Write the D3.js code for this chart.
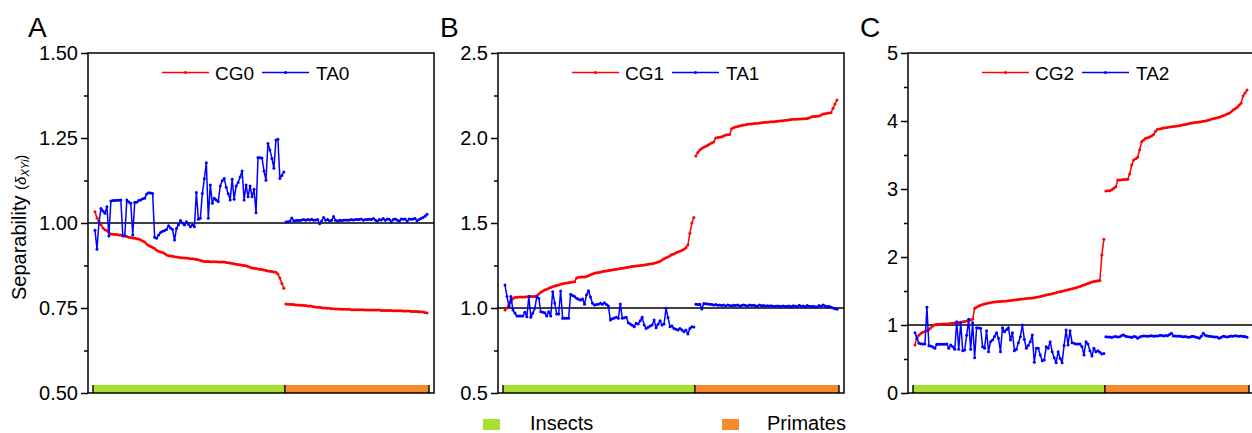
<!DOCTYPE html>
<html>
<head>
<meta charset="utf-8">
<script src="https://cdn.jsdelivr.net/npm/d3@7/dist/d3.min.js"></script>
<style>
  body { margin: 0; background: #fff; }
  svg { display: block; font-family: "Liberation Sans", Arial, sans-serif; }
</style>
</head>
<body>
<div id="chart"></div>
<script>
// ---- data (index = species, 96 insects then 72 primates) ----
const groups = ["Insects", "Primates"];

const cg0Insects = [
  1.033,1.015,1.005,0.995,0.985,0.980,0.977,0.972,0.968,0.967,0.966,0.966,
  0.965,0.965,0.964,0.963,0.960,0.958,0.957,0.956,0.955,0.954,0.953,0.950,
  0.947,0.944,0.938,0.934,0.931,0.928,0.925,0.920,0.917,0.915,0.913,0.910,
  0.906,0.904,0.903,0.902,0.901,0.900,0.899,0.898,0.898,0.897,0.897,0.896,
  0.895,0.895,0.894,0.893,0.892,0.890,0.888,0.887,0.887,0.887,0.886,0.886,
  0.886,0.886,0.885,0.885,0.885,0.885,0.884,0.883,0.882,0.881,0.880,0.879,
  0.878,0.877,0.876,0.875,0.874,0.872,0.870,0.868,0.867,0.866,0.865,0.864,
  0.863,0.862,0.860,0.859,0.858,0.857,0.856,0.855,0.850,0.838,0.822,0.808
];
const cg0Primates = [
  0.762,0.761,0.761,0.760,0.760,0.759,0.759,0.758,0.758,0.757,0.757,0.756,
  0.756,0.755,0.754,0.753,0.752,0.752,0.751,0.750,0.750,0.749,0.749,0.748,
  0.748,0.747,0.747,0.747,0.746,0.746,0.746,0.746,0.746,0.745,0.745,0.745,
  0.745,0.745,0.745,0.745,0.744,0.744,0.744,0.744,0.744,0.744,0.744,0.744,
  0.743,0.743,0.743,0.743,0.743,0.743,0.742,0.742,0.742,0.742,0.742,0.741,
  0.741,0.741,0.741,0.740,0.740,0.740,0.740,0.739,0.739,0.738,0.737,0.735
];
const ta0Insects = [
  0.979,0.923,1.000,1.043,1.035,1.029,1.048,0.962,1.065,1.066,1.066,1.067,
  1.067,1.068,0.962,0.962,1.068,1.062,1.058,0.965,1.061,1.061,1.066,1.068,
  1.071,1.073,1.085,1.089,1.088,1.087,0.958,0.955,0.965,0.972,0.976,0.978,
  0.981,0.992,0.985,0.981,0.950,0.984,0.995,1.007,1.000,0.994,1.004,0.996,
  0.989,0.994,0.989,1.090,1.011,1.014,1.087,1.130,1.177,1.014,1.112,1.058,
  1.073,1.068,1.063,1.109,1.124,1.131,1.105,1.086,1.068,1.129,1.070,1.109,
  1.119,1.135,1.153,1.068,1.112,1.077,1.109,1.077,1.099,1.030,1.193,1.192,
  1.191,1.153,1.126,1.234,1.215,1.190,1.161,1.244,1.246,1.131,1.140,1.150
];
const ta0Primates = [
  1.003,1.004,1.005,1.015,1.006,1.007,1.008,1.007,1.009,1.010,1.008,1.010,
  1.009,1.011,1.008,1.009,1.010,0.998,1.006,1.016,1.008,1.010,1.006,1.008,
  1.019,1.008,1.006,1.008,1.007,1.008,1.009,1.008,1.009,1.010,1.009,1.010,
  1.010,1.010,1.012,1.008,1.010,1.010,1.011,1.010,1.013,1.009,1.005,1.010,
  1.009,1.013,1.008,1.012,1.011,1.003,1.010,1.012,1.009,1.005,1.012,1.011,
  1.012,1.004,1.012,1.011,1.012,1.013,1.006,1.010,1.013,1.016,1.020,1.026
];

const cg1Insects = [
  0.988,1.000,1.015,1.035,1.055,1.062,1.063,1.064,1.064,1.065,1.065,1.066,
  1.066,1.067,1.067,1.068,1.072,1.082,1.092,1.100,1.106,1.111,1.116,1.121,
  1.125,1.129,1.133,1.136,1.139,1.142,1.145,1.147,1.149,1.151,1.153,1.155,
  1.176,1.181,1.182,1.183,1.183,1.185,1.190,1.196,1.200,1.204,1.207,1.209,
  1.211,1.214,1.216,1.218,1.220,1.222,1.224,1.226,1.228,1.230,1.232,1.234,
  1.236,1.238,1.240,1.242,1.244,1.245,1.247,1.248,1.250,1.251,1.253,1.255,
  1.257,1.259,1.261,1.263,1.266,1.270,1.275,1.282,1.290,1.296,1.300,1.308,
  1.315,1.318,1.325,1.330,1.334,1.340,1.345,1.355,1.370,1.440,1.500,1.533
];
const cg1Primates = [
  1.894,1.915,1.929,1.938,1.946,1.951,1.958,1.965,1.970,1.976,2.000,2.003,
  2.005,2.007,2.012,2.017,2.019,2.021,2.055,2.060,2.064,2.068,2.071,2.073,
  2.076,2.078,2.081,2.082,2.083,2.085,2.086,2.087,2.088,2.090,2.091,2.092,
  2.093,2.094,2.095,2.096,2.097,2.098,2.100,2.101,2.102,2.104,2.105,2.107,
  2.109,2.110,2.110,2.111,2.112,2.112,2.113,2.113,2.114,2.118,2.124,2.126,
  2.127,2.128,2.129,2.136,2.141,2.143,2.145,2.147,2.149,2.175,2.200,2.224
];
const ta1Insects = [
  1.135,1.067,1.008,1.067,0.988,0.970,0.953,0.953,0.953,0.953,0.975,0.949,
  1.067,0.945,0.970,0.998,1.067,1.057,0.978,0.975,0.972,0.953,0.978,0.953,
  1.096,1.030,0.965,0.965,1.100,0.939,0.939,0.939,0.939,1.081,1.074,1.067,
  1.057,1.052,1.047,1.053,1.022,1.076,1.102,1.065,1.028,1.018,1.020,1.022,
  1.028,1.022,1.031,1.020,1.012,0.929,0.937,0.941,0.945,0.939,1.024,0.939,
  0.942,0.945,0.913,0.906,0.898,0.890,0.910,0.906,0.925,0.945,0.900,0.880,
  0.887,0.894,0.900,0.929,0.884,0.905,0.925,0.900,0.906,0.998,0.944,0.890,
  0.894,0.880,0.875,0.871,0.880,0.870,0.861,0.871,0.847,0.880,0.890,0.888
];
const ta1Primates = [
  1.022,1.020,1.022,0.994,1.026,1.025,1.024,1.022,1.020,1.018,1.020,1.016,
  1.018,1.014,1.017,1.012,1.018,1.015,1.013,1.016,1.014,1.018,1.012,1.015,
  1.017,1.015,1.012,1.017,1.014,1.016,1.013,1.010,1.018,1.013,1.014,1.012,
  1.013,1.012,1.013,1.011,1.010,1.012,1.010,1.011,1.012,1.009,1.010,1.012,
  1.008,1.013,1.010,1.009,1.016,1.010,1.012,1.008,1.014,1.010,1.009,1.011,
  1.008,1.006,1.014,1.010,1.018,1.012,1.008,1.010,1.004,1.000,0.996,0.992
];

const cg2Insects = [
  0.706,0.828,0.850,0.878,0.892,0.905,0.916,0.935,0.960,0.985,1.005,1.010,
  1.012,1.012,1.013,1.014,1.015,1.018,1.022,1.026,1.030,1.034,1.037,1.041,
  1.046,1.052,1.058,1.065,1.075,1.084,1.245,1.262,1.279,1.290,1.300,1.310,
  1.318,1.322,1.327,1.333,1.338,1.343,1.345,1.347,1.349,1.351,1.353,1.356,
  1.360,1.364,1.368,1.372,1.375,1.378,1.381,1.385,1.388,1.392,1.395,1.398,
  1.402,1.407,1.413,1.419,1.425,1.432,1.440,1.447,1.454,1.461,1.468,1.476,
  1.484,1.490,1.497,1.504,1.511,1.518,1.526,1.533,1.539,1.548,1.558,1.568,
  1.579,1.590,1.600,1.612,1.623,1.633,1.641,1.645,1.650,1.655,2.030,2.260
];
const cg2Primates = [
  2.971,2.973,2.975,2.990,3.010,3.034,3.132,3.134,3.136,3.138,3.140,3.142,
  3.221,3.353,3.426,3.445,3.466,3.574,3.696,3.720,3.745,3.755,3.765,3.779,
  3.800,3.850,3.877,3.884,3.890,3.896,3.902,3.906,3.910,3.914,3.918,3.922,
  3.927,3.931,3.937,3.944,3.950,3.957,3.963,3.970,3.975,3.979,3.982,3.986,
  3.990,3.995,4.000,4.008,4.016,4.024,4.032,4.040,4.047,4.054,4.066,4.078,
  4.090,4.102,4.113,4.135,4.160,4.180,4.200,4.230,4.260,4.368,4.410,4.456
];
const ta2Insects = [
  0.887,0.804,0.730,0.725,0.720,0.720,1.260,0.696,0.691,0.675,0.657,0.716,
  0.716,0.716,0.716,0.718,0.720,0.657,0.706,0.680,0.642,1.049,0.642,1.034,
  0.622,0.632,0.850,1.083,0.642,1.034,0.520,0.961,0.955,0.951,0.681,0.657,
  0.916,0.608,0.755,0.779,0.830,0.887,0.804,0.608,0.961,0.902,0.930,0.961,
  0.779,0.887,0.622,0.642,0.740,0.828,1.000,0.789,0.657,0.700,0.755,0.853,
  0.451,0.657,0.657,0.560,0.475,0.485,0.681,0.657,0.755,0.608,0.520,0.446,
  0.608,0.510,0.446,0.700,0.926,0.706,0.916,0.740,0.730,0.720,0.720,0.720,
  0.681,0.559,0.755,0.720,0.620,0.544,0.657,0.608,0.622,0.600,0.574,0.580
];
const ta2Primates = [
  0.828,0.822,0.825,0.818,0.826,0.830,0.822,0.828,0.845,0.853,0.835,0.828,
  0.825,0.818,0.830,0.826,0.804,0.822,0.835,0.838,0.840,0.835,0.838,0.842,
  0.835,0.840,0.838,0.845,0.850,0.840,0.845,0.842,0.860,0.877,0.840,0.838,
  0.835,0.838,0.832,0.826,0.830,0.825,0.820,0.832,0.835,0.825,0.818,0.804,
  0.835,0.877,0.850,0.840,0.835,0.830,0.826,0.825,0.822,0.804,0.820,0.835,
  0.830,0.825,0.832,0.838,0.835,0.842,0.838,0.835,0.838,0.832,0.830,0.819
];

const ticksA = [0.5, 0.75, 1.0, 1.25, 1.5], minorA = [0.625, 0.875, 1.125, 1.375];
const ticksB = [0.5, 1.0, 1.5, 2.0, 2.5],  minorB = [0.75, 1.25, 1.75, 2.25];
const ticksC = [0, 1, 2, 3, 4, 5],         minorC = [0.5, 1.5, 2.5, 3.5, 4.5];
const refValue = 1.0;

// ---- layout ----
const W = 1252, H = 433;
const plotTop = 53, plotBottom = 393, plotW = 346;
const red = "#ff0000", blue = "#0000ff";
const groupColor = { Insects: "#a4e22f", Primates: "#f7892c" };

const panels = [
  { letter: "A", letterX: 28,  left: 88,  domain: [0.5, 1.5], ticks: ticksA, minor: minorA, fmt: d3.format(".2f"),
    names: ["CG0", "TA0"], cg: [cg0Insects, cg0Primates], ta: [ta0Insects, ta0Primates] },
  { letter: "B", letterX: 440, left: 498, domain: [0.5, 2.5], ticks: ticksB, minor: minorB, fmt: d3.format(".1f"),
    names: ["CG1", "TA1"], cg: [cg1Insects, cg1Primates], ta: [ta1Insects, ta1Primates] },
  { letter: "C", letterX: 860, left: 908, domain: [0, 5],     ticks: ticksC, minor: minorC, fmt: d3.format("d"),
    names: ["CG2", "TA2"], cg: [cg2Insects, cg2Primates], ta: [ta2Insects, ta2Primates] }
];

const svg = d3.select("#chart").append("svg")
  .attr("width", W).attr("height", H);

panels.forEach(p => {
  const nIns = p.cg[0].length, nPri = p.cg[1].length;
  const x = d3.scaleLinear().domain([-1, nIns + nPri]).range([p.left + 5, p.left + plotW - 5]);
  const y = d3.scaleLinear().domain(p.domain).range([plotBottom, plotTop]);
  const g = svg.append("g");

  // group bars along the bottom
  const spans = [[-1, nIns - 0.5], [nIns - 0.5, nIns + nPri]];
  spans.forEach((s, k) => {
    g.append("rect")
      .attr("x", x(s[0])).attr("y", plotBottom - 8)
      .attr("width", x(s[1]) - x(s[0])).attr("height", 8)
      .attr("fill", groupColor[groups[k]]);
  });
  [-1, nIns - 0.5, nIns + nPri].forEach(v => {
    g.append("line")
      .attr("x1", x(v)).attr("x2", x(v))
      .attr("y1", plotBottom - 8).attr("y2", plotBottom)
      .attr("stroke", "#000").attr("stroke-width", 1.4);
  });

  // reference line
  g.append("line")
    .attr("x1", p.left).attr("x2", p.left + plotW)
    .attr("y1", y(refValue)).attr("y2", y(refValue))
    .attr("stroke", "#000").attr("stroke-width", 1.3);

  // series
  const line = d3.line().x(d => x(d.i)).y(d => y(d.v));
  const drawSeries = (parts, color) => {
    parts.forEach((arr, k) => {
      const offset = k === 0 ? 0 : nIns;
      const pts = arr.map((v, j) => ({ i: j + offset, v }));
      g.append("path").datum(pts)
        .attr("d", line).attr("fill", "none")
        .attr("stroke", color).attr("stroke-width", 1.5)
        .attr("stroke-linejoin", "round");
      g.selectAll(null).data(pts).enter().append("circle")
        .attr("cx", d => x(d.i)).attr("cy", d => y(d.v))
        .attr("r", 1.5).attr("fill", color);
    });
  };
  drawSeries(p.cg, red);
  drawSeries(p.ta, blue);

  // frame
  g.append("rect")
    .attr("x", p.left).attr("y", plotTop)
    .attr("width", plotW).attr("height", plotBottom - plotTop)
    .attr("fill", "none").attr("stroke", "#000").attr("stroke-width", 1.5);

  // y axis
  const ax = g.append("g").attr("transform", `translate(${p.left},0)`)
    .call(d3.axisLeft(y).tickValues(p.ticks).tickSize(7).tickPadding(3).tickSizeOuter(0).tickFormat(p.fmt));
  ax.select(".domain").remove();
  ax.selectAll("line").attr("stroke", "#000").attr("stroke-width", 1.5);
  ax.selectAll("text").attr("font-size", 20).attr("fill", "#000")
    .attr("font-family", "Liberation Sans, Arial, sans-serif");

  const mx = g.append("g").attr("transform", `translate(${p.left},0)`)
    .call(d3.axisLeft(y).tickValues(p.minor).tickSize(4).tickSizeOuter(0).tickFormat(""));
  mx.select(".domain").remove();
  mx.selectAll("line").attr("stroke", "#000").attr("stroke-width", 1.5);

  // panel letter
  svg.append("text").attr("x", p.letterX).attr("y", 37)
    .attr("font-size", 28).text(p.letter);

  // legend
  const ly = 72.5;
  [[p.names[0], red, 74, 127], [p.names[1], blue, 174, 228]].forEach(([name, color, x0, tx]) => {
    g.append("line")
      .attr("x1", p.left + x0).attr("x2", p.left + x0 + 47)
      .attr("y1", ly).attr("y2", ly)
      .attr("stroke", color).attr("stroke-width", 1.5);
    g.append("circle").attr("cx", p.left + x0 + 23.5).attr("cy", ly).attr("r", 1.5).attr("fill", color);
    g.append("text").attr("x", p.left + tx).attr("y", 80)
      .attr("font-size", 19).text(name);
  });
});

// y axis title
const yt = svg.append("text")
  .attr("transform", "translate(26,300) rotate(-90)")
  .attr("font-size", 20);
yt.append("tspan").text("Separability ");
yt.append("tspan").attr("font-size", 15).text("(");
yt.append("tspan").attr("font-size", 15).attr("font-style", "italic").text("δ");
yt.append("tspan").attr("font-size", 11).attr("font-style", "italic").attr("dy", 3).text("XYi");
yt.append("tspan").attr("font-size", 15).attr("dy", -3).text(")");

// group legend at bottom
const legX = [{ sx: 483, tx: 530 }, { sx: 722, tx: 767 }];
groups.forEach((name, k) => {
  svg.append("rect")
    .attr("x", legX[k].sx).attr("y", 419)
    .attr("width", 17).attr("height", 11)
    .attr("fill", groupColor[name]);
  svg.append("text")
    .attr("x", legX[k].tx).attr("y", 430)
    .attr("font-size", 20).text(name);
});
</script>
</body>
</html>
